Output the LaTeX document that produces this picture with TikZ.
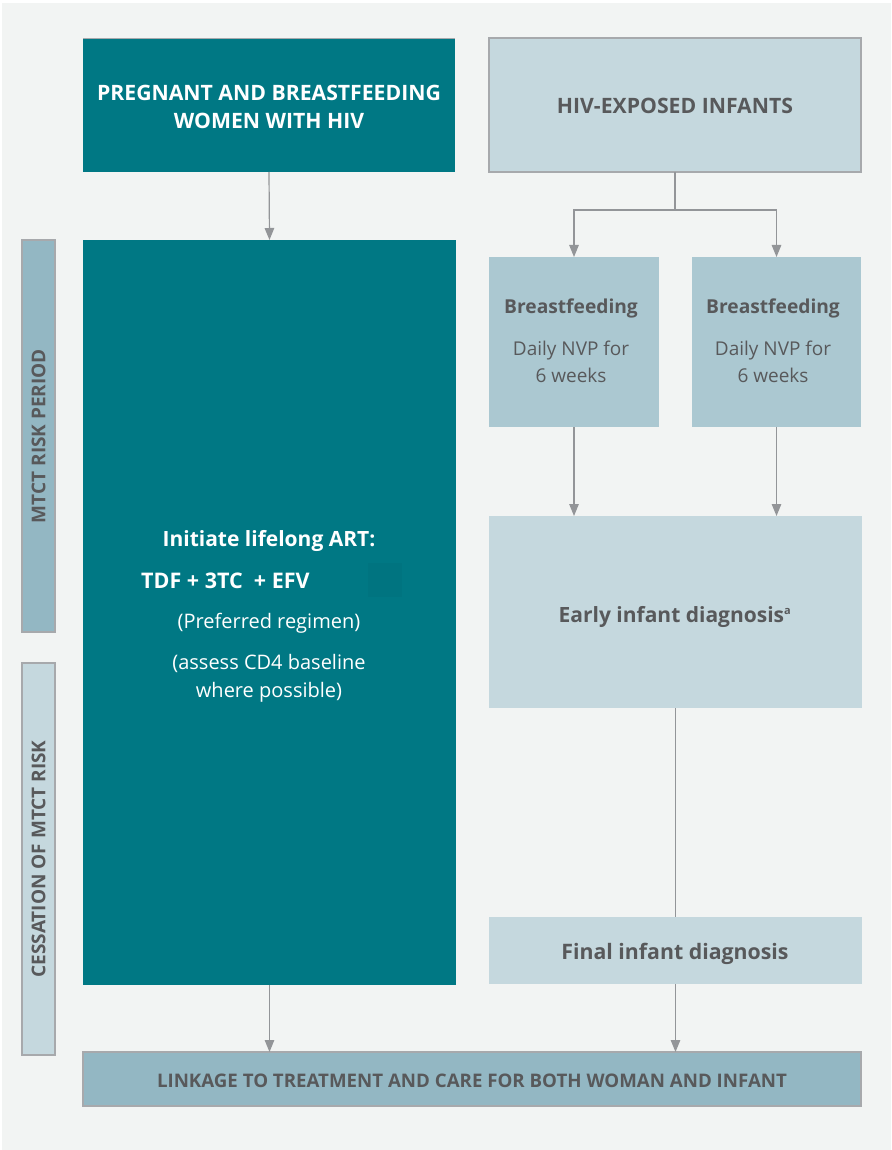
\documentclass[tikz,border=0pt]{standalone}
\usepackage{fontspec}
\setmainfont{Open Sans}
\usetikzlibrary{arrows.meta,positioning,calc}
\definecolor{teal}{HTML}{007884}
\definecolor{pale}{HTML}{C5D8DE}
\definecolor{mid}{HTML}{ABC8D1}
\definecolor{deep}{HTML}{93B7C3}
\definecolor{txt}{HTML}{58595B}
\definecolor{bgc}{HTML}{F2F4F3}
\definecolor{edge}{HTML}{A7A9AC}
\definecolor{arrc}{HTML}{939598}
\tikzset{
  box/.style={anchor=north west, inner sep=0pt, outer sep=0pt, align=center},
  tealbox/.style={box, fill=teal},
  palebox/.style={box, fill=pale},
  midbox/.style={box, fill=mid},
  framed/.style={draw=edge, line width=1.2pt},
  sidebar/.style={box, draw=edge, line width=1.2pt},
  sidetext/.style={rotate=90, text=txt, font=\bfseries\fontsize{19}{22}\selectfont, inner sep=0pt},
  lbl/.style={inner sep=0pt, anchor=base},
  arttext/.style={lbl, text=white},
  graytext/.style={lbl, text=txt},
  conn/.style={draw=arrc, line width=1.2pt},
  arr/.style={conn, -{Triangle[length=12pt,width=9.5pt]}},
}
\begin{document}
\begin{tikzpicture}[x=1pt,y=-1pt]
\useasboundingbox (0,0) rectangle (891,1150);
\fill[bgc] (2,3) rectangle (891,1150);
% top boxes
\node[tealbox, minimum width=372pt, minimum height=134pt] (women) at (83,38) {};
\draw[edge, line width=0.8pt] (women.north west) -- (women.north east);
\node[arttext, font=\bfseries\fontsize{21.2}{28}\selectfont] (w1) at (269,101) {PREGNANT AND BREASTFEEDING};
\node[arttext, font=\bfseries\fontsize{21.2}{28}\selectfont] (w2) at (269,129) {WOMEN WITH HIV};
\node[palebox, framed, minimum width=372pt, minimum height=134pt] (infants) at (489,38) {};
\node[graytext, font=\bfseries\fontsize{21.2}{28}\selectfont] (infantstxt) at (675,114) {HIV-EXPOSED INFANTS};
% ART box
\node[tealbox, minimum width=373pt, minimum height=745pt] (art) at (83,240) {};
\fill[teal!92!black, opacity=0.35] (368,563) rectangle (402,597);
\node[arttext, font=\bfseries\fontsize{21}{26}\selectfont] (l1) at (269,546) {Initiate lifelong ART:};
\node[arttext, font=\bfseries\fontsize{21.5}{26}\selectfont, anchor=base west] (l2) at (141,588) {TDF + 3TC\ \ + EFV};
\node[arttext, font=\fontsize{20}{26}\selectfont] (l3) at (269,628) {(Preferred regimen)};
\node[arttext, font=\fontsize{20}{26}\selectfont] (l4) at (269,669) {(assess CD4 baseline};
\node[arttext, font=\fontsize{20}{26}\selectfont] (l5) at (269,697) {where possible)};
% side bars
\node[sidebar, fill=deep, minimum width=33pt, minimum height=392pt] (risk) at (22,240) {};
\node[sidetext] (risktxt) at (38.5,436) {MTCT RISK PERIOD};
\node[sidebar, fill=pale, minimum width=33pt, minimum height=392pt] (cess) at (22,663) {};
\node[sidetext] (cesstxt) at (38.5,859) {CESSATION OF MTCT RISK};
% breastfeeding boxes
\node[midbox, minimum width=170pt, minimum height=170pt] (bf1) at (489,257) {};
\node[midbox, minimum width=169pt, minimum height=170pt] (bf2) at (692,257) {};
\node[graytext, font=\bfseries\fontsize{19.2}{26}\selectfont] (bf1a) at (571,313) {Breastfeeding};
\node[graytext, font=\fontsize{19}{26}\selectfont] (bf1b) at (571,355) {Daily NVP for};
\node[graytext, font=\fontsize{19}{26}\selectfont] (bf1c) at (571,382) {6 weeks};
\node[graytext, font=\bfseries\fontsize{19.2}{26}\selectfont] (bf2a) at (773,313) {Breastfeeding};
\node[graytext, font=\fontsize{19}{26}\selectfont] (bf2b) at (773,355) {Daily NVP for};
\node[graytext, font=\fontsize{19}{26}\selectfont] (bf2c) at (773,382) {6 weeks};
% diagnosis boxes
\node[palebox, minimum width=373pt, minimum height=192pt] (eid) at (489,516) {};
\node[graytext, font=\bfseries\fontsize{21}{26}\selectfont] (eidtxt) at (675,622) {Early infant diagnosis\textsuperscript{\fontsize{11}{11}\selectfont a}};
\node[palebox, minimum width=373pt, minimum height=67pt] (fid) at (489,917) {};
\node[graytext, font=\bfseries\fontsize{21.3}{26}\selectfont] (fidtxt) at (675,959) {Final infant diagnosis};
% linkage
\node[box, fill=deep, framed, minimum width=778pt, minimum height=54pt] (link) at (83,1052) {};
\node[graytext, font=\bfseries\fontsize{18.7}{22}\selectfont] (linktxt) at (472,1087) {LINKAGE TO TREATMENT AND CARE FOR BOTH WOMAN AND INFANT};
% connectors
\draw[arr] (women.south) -- (art.north);
\draw[conn] (infants.south) -- ++(0,38) coordinate (split);
\draw[arr] (split) -| (bf1.north);
\draw[arr] (split) -| (bf2.north);
\draw[arr] (bf1.south) -- (bf1.south |- eid.north);
\draw[arr] (bf2.south) -- (bf2.south |- eid.north);
\draw[conn] (eid.south) -- (eid.south |- fid.north);
\draw[arr] (fid.south) -- (fid.south |- link.north);
\draw[arr] (art.south) -- (art.south |- link.north);
\end{tikzpicture}
\end{document}
